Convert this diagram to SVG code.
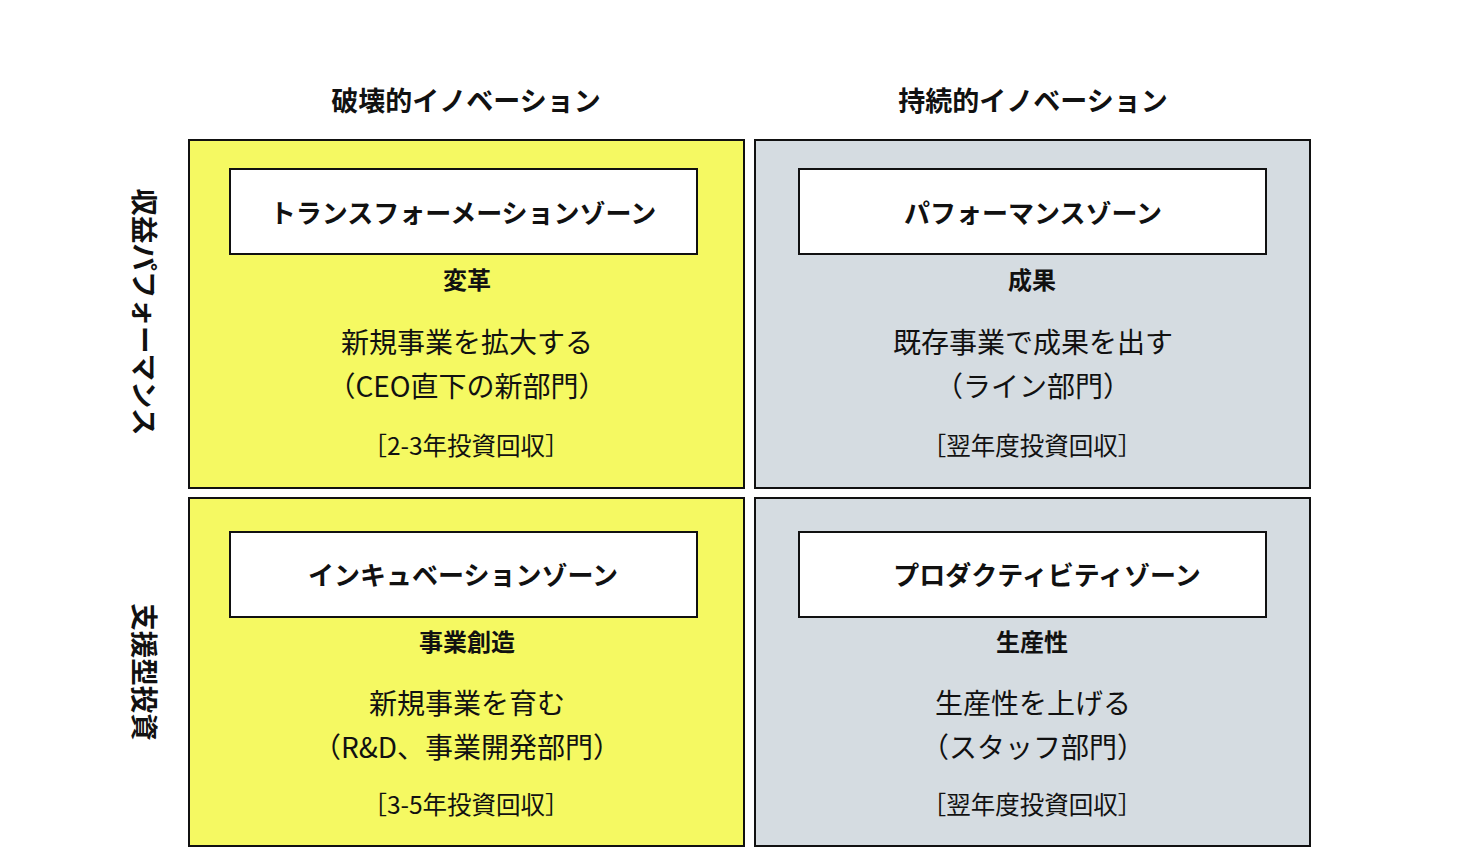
<svg xmlns="http://www.w3.org/2000/svg" width="1480" height="861" viewBox="0 0 1480 861">
<style>
text{font-family:"Noto Sans CJK JP","Noto Sans",sans-serif;fill:#111;text-anchor:middle;dominant-baseline:central}
.h{font-size:27px;font-weight:700}
.v{font-size:27.5px;font-weight:700}
.t{font-size:26px;font-weight:700}
.s{font-size:24px;font-weight:700}
.m{font-size:28px}
.r{font-size:24.5px}
.y{fill:#F5F962;stroke:#111;stroke-width:2}
.g{fill:#D5DCE1;stroke:#111;stroke-width:2}
.w{fill:#fff;stroke:#111;stroke-width:2}
</style>
<rect width="1480" height="861" fill="#fff"/>
<g id="col-headers">
<text class="h" x="466" y="99">破壊的イノベーション</text>
<text class="h" x="1033" y="99">持続的イノベーション</text>
</g>
<g id="row-headers">
<text class="v" transform="translate(146,312) rotate(90)">収益パフォーマンス</text>
<text class="v" transform="translate(146,672) rotate(90)">支援型投資</text>
</g>
<g id="transformation">
<rect class="y" x="189" y="140" width="555" height="348"/>
<rect class="w" x="230" y="169" width="467" height="85"/>
<text class="t" x="463" y="211">トランスフォーメーションゾーン</text>
<text class="s" x="467" y="278">変革</text>
<text class="m" x="467" y="341">新規事業を拡大する</text>
<text class="m" x="467" y="385">（CEO直下の新部門）</text>
<text class="r" x="466" y="444">［2-3年投資回収］</text>
</g>
<g id="performance">
<rect class="g" x="755" y="140" width="555" height="348"/>
<rect class="w" x="799" y="169" width="467" height="85"/>
<text class="t" x="1033" y="211">パフォーマンスゾーン</text>
<text class="s" x="1032" y="278">成果</text>
<text class="m" x="1033" y="341">既存事業で成果を出す</text>
<text class="m" x="1033" y="385">（ライン部門）</text>
<text class="r" x="1032" y="444">［翌年度投資回収］</text>
</g>
<g id="incubation">
<rect class="y" x="189" y="498" width="555" height="348"/>
<rect class="w" x="230" y="532" width="467" height="85"/>
<text class="t" x="463" y="573">インキュベーションゾーン</text>
<text class="s" x="467" y="640">事業創造</text>
<text class="m" x="467" y="702">新規事業を育む</text>
<text class="m" x="467" y="746">（R&amp;D、事業開発部門）</text>
<text class="r" x="466" y="803">［3-5年投資回収］</text>
</g>
<g id="productivity">
<rect class="g" x="755" y="498" width="555" height="348"/>
<rect class="w" x="799" y="532" width="467" height="85"/>
<text class="t" x="1047" y="573">プロダクティビティゾーン</text>
<text class="s" x="1032" y="640">生産性</text>
<text class="m" x="1033" y="702">生産性を上げる</text>
<text class="m" x="1033" y="746">（スタッフ部門）</text>
<text class="r" x="1032" y="803">［翌年度投資回収］</text>
</g>
<g id="connectors"/>
</svg>
